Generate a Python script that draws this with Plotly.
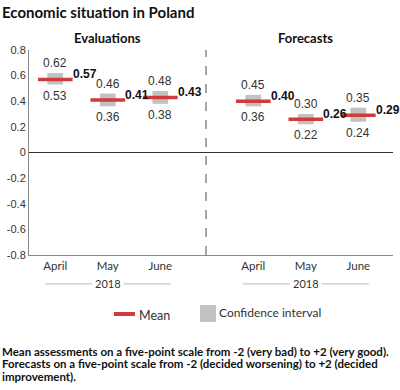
import plotly.graph_objects as go

# ---- data ----
months = ["April", "May", "June", "April", "May", "June"]
panels = ["Evaluations", "Forecasts"]
year_label = "2018"
means = [0.57, 0.41, 0.43, 0.40, 0.26, 0.29]
ci_low = [0.53, 0.36, 0.38, 0.36, 0.22, 0.24]
ci_high = [0.62, 0.46, 0.48, 0.45, 0.30, 0.35]
y_ticks = [-0.8, -0.6, -0.4, -0.2, 0, 0.2, 0.4, 0.6, 0.8]

# layout positions (x units)
xpos = [0.5, 1.5, 2.5, 4.27, 5.27, 6.27]
divider_x = 3.37
xmax = 6.93

RED = "#d13b3b"
GRAY = "#c2c2c2"
TXT = "#333333"
FONT = "Lato"
TICKFONT = "Liberation Sans"

fig = go.Figure()

# confidence interval boxes
fig.add_trace(go.Bar(
    x=xpos, y=[h - l for h, l in zip(ci_high, ci_low)], base=ci_low,
    width=0.3, marker=dict(color=GRAY, line=dict(width=0)),
    hoverinfo="skip", showlegend=False))

# mean lines
mx, my = [], []
half = 0.33
for x, m in zip(xpos, means):
    mx += [x - half, x + half, None]
    my += [m, m, None]
fig.add_trace(go.Scatter(x=mx, y=my, mode="lines",
                         line=dict(color=RED, width=3.5),
                         hoverinfo="skip", showlegend=False))

ann = []
for x, m, lo, hi in zip(xpos, means, ci_low, ci_high):
    ann.append(dict(x=x, y=hi, text=f"{hi:.2f}", showarrow=False,
                    xanchor="center", yanchor="bottom", yshift=1,
                    font=dict(family=TICKFONT, size=12, color=TXT)))
    ann.append(dict(x=x, y=lo, text=f"{lo:.2f}", showarrow=False,
                    xanchor="center", yanchor="top", yshift=-2,
                    font=dict(family=TICKFONT, size=12, color=TXT)))
    ann.append(dict(x=x + half, y=m, text=f"<b>{m:.2f}</b>", showarrow=False,
                    xanchor="left", yanchor="middle", yshift=5, xshift=-2,
                    font=dict(family=TICKFONT, size=12, color="#111111")))

shapes = []
for i, p in enumerate(panels):
    cx = sum(xpos[3 * i:3 * i + 3]) / 3
    ann.append(dict(x=cx, y=1.0, yref="paper", text=f"<b>{p}</b>",
                    showarrow=False, xanchor="center", yanchor="bottom", yshift=2,
                    font=dict(family=FONT, size=13, color="#111111")))
    ann.append(dict(x=cx, y=-0.141, yref="paper", text=year_label,
                    showarrow=False, xanchor="center", yanchor="middle",
                    font=dict(family=FONT, size=11, color=TXT)))
    for a, b in [(cx - 1.2, cx - 0.3), (cx + 0.3, cx + 1.2)]:
        shapes.append(dict(type="line", x0=a, x1=b, y0=-0.141, y1=-0.141,
                           xref="x", yref="paper",
                           line=dict(color="#bbbbbb", width=1)))
# divider
shapes.append(dict(type="line", x0=divider_x, x1=divider_x, y0=0, y1=1,
                   xref="x", yref="paper",
                   line=dict(color="#888888", width=1.5, dash="dash")))
# zero line
shapes.append(dict(type="line", x0=0, x1=xmax, y0=0, y1=0, xref="x", yref="y",
                   line=dict(color="#333333", width=1)))

# legend (manual)
def px2x(px):
    return (px - 29) / 364
def py2y(py):
    return (255 - py) / 205

shapes.append(dict(type="line", xref="paper", yref="paper",
                   x0=px2x(114), x1=px2x(135), y0=py2y(314), y1=py2y(314),
                   line=dict(color=RED, width=4)))
shapes.append(dict(type="rect", xref="paper", yref="paper",
                   x0=px2x(200), x1=px2x(216), y0=py2y(305), y1=py2y(322),
                   fillcolor=GRAY, line=dict(width=0)))
ann.append(dict(xref="paper", yref="paper", x=px2x(137), y=py2y(315),
                text="Mean", showarrow=False, xanchor="left", yanchor="middle",
                font=dict(family=FONT, size=12.5, color=TXT)))
ann.append(dict(xref="paper", yref="paper", x=px2x(217), y=py2y(312),
                text="Confidence interval", showarrow=False, xanchor="left",
                yanchor="middle", font=dict(family=FONT, size=12, color=TXT)))

# title
ann.append(dict(xref="paper", yref="paper", x=px2x(0), y=py2y(12),
                text="<b>Economic situation in Poland</b>", showarrow=False,
                xanchor="left", yanchor="middle",
                font=dict(family=FONT, size=15, color="#111111")))
# footnote
foot = ["Mean assessments on a five-point scale from -2 (very bad) to +2 (very good).",
        "Forecasts on a five-point scale from -2 (decided worsening) to +2 (decided",
        "improvement)."]
for i, line in enumerate(foot):
    ann.append(dict(xref="paper", yref="paper", x=px2x(0), y=py2y(351 + 12.5 * i),
                    text=f"<b>{line}</b>", showarrow=False, xanchor="left",
                    yanchor="middle",
                    font=dict(family=FONT, size=11.5, color="#111111")))

fig.update_layout(
    width=400, height=390,
    margin=dict(l=29, r=7, t=50, b=135),
    paper_bgcolor="white", plot_bgcolor="white",
    showlegend=False, annotations=ann, shapes=shapes,
    xaxis=dict(range=[0, xmax], tickvals=xpos, ticktext=months,
               showgrid=False, zeroline=False, showline=True,
               linecolor="#888888", linewidth=1, ticks="",
               tickfont=dict(family=FONT, size=11.5, color=TXT)),
    yaxis=dict(range=[-0.8, 0.8], tickvals=y_ticks,
               ticktext=[("0" if v == 0 else f"{v:.1f}") for v in y_ticks],
               showgrid=False, zeroline=False, showline=True,
               linecolor="#888888", linewidth=1, ticks="",
               tickfont=dict(family=TICKFONT, size=11, color=TXT)),
)

fig.write_html("out.html", config={"displayModeBar": False},
               post_script="document.body.style.margin='0';document.body.style.padding='0';")
